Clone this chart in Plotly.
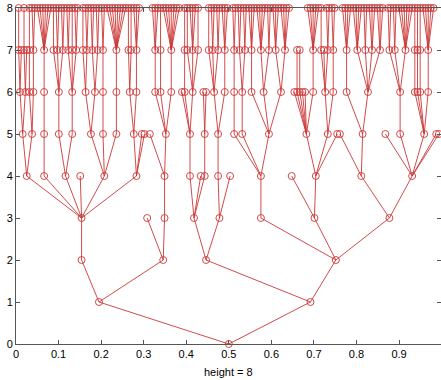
import plotly.graph_objects as go

# Tree structure: for each depth level, the index (within the previous level) of each node's parent
level1_parent = [0, 0]
level2_parent = [0, 0, 1, 1]
level3_parent = [0, 1, 1, 2, 2, 3, 3, 3]
level4_parent = [0, 0, 0, 0, 0, 0, 2, 3, 3, 3, 4, 4, 5, 6, 6, 7, 7]
level5_parent = [0, 0, 1, 2, 2, 4, 4, 4, 5, 5, 5, 6, 6, 7, 9, 10, 12, 12, 12,
                 14, 14, 14, 15, 15, 16, 16, 16, 16, 16]
level6_parent = [0, 0, 1, 1, 2, 3, 4, 5, 5, 6, 7, 8, 8, 12, 12, 12, 13, 13, 13,
                 14, 14, 15, 15, 16, 17, 18, 18, 18, 19, 19, 19, 19, 19, 19,
                 20, 20, 23, 23, 25, 26, 26, 26, 26]
level7_parent = [0, 0, 1, 1, 2, 3, 4, 5, 5, 5, 6, 6, 6, 7, 7, 8, 8, 9, 10, 11,
                 11, 12, 13, 14, 15, 17, 18, 18, 18, 21, 21, 21, 22, 23, 24, 24,
                 25, 26, 26, 27, 27, 29, 30, 33, 34, 34, 34, 35, 36, 37, 37, 37,
                 37, 38, 38, 38, 39, 40, 41, 42]
# number of depth-8 children of each depth-7 node
level8_count = [1, 0, 1, 0, 1, 2, 6, 1, 2, 2, 2, 1, 2, 1, 2, 2, 2, 2, 8, 1,
                1, 3, 3, 1, 7, 1, 1, 3, 1, 1, 2, 2, 3, 2, 2, 2, 3, 4, 2, 3,
                4, 0, 0, 5, 1, 0, 2, 2, 4, 4, 2, 3, 3, 2, 2, 6, 1, 1, 1, 5]
level8_parent = [i for i, c in enumerate(level8_count) for _ in range(c)]

x_ticks = [0, 0.1, 0.2, 0.3, 0.4, 0.5, 0.6, 0.7, 0.8, 0.9]
x_tick_labels = ["0", "0.1", "0.2", "0.3", "0.4", "0.5", "0.6", "0.7", "0.8", "0.9"]
y_ticks = [0, 1, 2, 3, 4, 5, 6, 7, 8]

levels = [level1_parent, level2_parent, level3_parent, level4_parent,
          level5_parent, level6_parent, level7_parent, level8_parent]

# ---- build the global parent vector (like MATLAB treeplot input) ----
parent = [-1]
depth = [0]
prev_off = 0
for d, plist in enumerate(levels, start=1):
    off = len(parent)
    for p in plist:
        parent.append(prev_off + p)
        depth.append(d)
    prev_off = off
N = len(parent)
children = [[] for _ in range(N)]
for i, p in enumerate(parent):
    if p >= 0:
        children[p].append(i)

# ---- tree layout: leaves evenly spaced in DFS order, parents centred on leaf span ----
lo = [0] * N
hi = [0] * N
counter = [0]


def dfs(u):
    if not children[u]:
        counter[0] += 1
        lo[u] = hi[u] = counter[0]
        return
    for c in children[u]:
        dfs(c)
    lo[u] = lo[children[u][0]]
    hi[u] = hi[children[u][-1]]


dfs(0)
n_leaves = counter[0]
xs = [(lo[i] + hi[i]) / 2 / (n_leaves + 1) for i in range(N)]
ys = depth

red = "rgb(205,55,55)"

ex, ey = [], []
for i in range(1, N):
    p = parent[i]
    ex += [xs[p], xs[i], None]
    ey += [ys[p], ys[i], None]

fig = go.Figure()
fig.add_trace(go.Scatter(x=ex, y=ey, mode="lines",
                         line=dict(color=red, width=0.9),
                         hoverinfo="skip", showlegend=False, cliponaxis=False))
fig.add_trace(go.Scatter(x=xs, y=ys, mode="markers",
                         marker=dict(symbol="circle-open", size=7,
                                     color=red, line=dict(color=red, width=0.9)),
                         showlegend=False, cliponaxis=False))
# invisible trace to carry the right-hand tick axis
fig.add_trace(go.Scatter(x=[0], y=[0], yaxis="y2", mode="markers",
                         marker=dict(opacity=0), showlegend=False, hoverinfo="skip"))

axis_font = dict(family="Liberation Sans, Arial, sans-serif", size=11, color="black")

fig.update_layout(
    width=441, height=380,
    margin=dict(l=16, r=0, t=8, b=36, autoexpand=False),
    paper_bgcolor="white", plot_bgcolor="white",
    font=axis_font,
    xaxis=dict(range=[0, 0.9986], tickvals=x_ticks, ticktext=x_tick_labels,
               showgrid=False, zeroline=False, showline=True, linecolor="#555",
               linewidth=1, mirror="ticks", ticks="inside", ticklen=4,
               tickcolor="#555", tickfont=axis_font, automargin=False),
    yaxis=dict(range=[0, 8], tickvals=y_ticks, showgrid=False, zeroline=False,
               showline=True, linecolor="#555", linewidth=1, ticks="inside",
               ticklen=4, tickcolor="#555", tickfont=axis_font, automargin=False),
    yaxis2=dict(range=[0, 8], tickvals=y_ticks, overlaying="y", side="right",
                showgrid=False, zeroline=False, showline=False, ticks="inside",
                ticklen=4, tickcolor="#555", showticklabels=False, automargin=False),
    annotations=[dict(text=f"height = {max(depth)}", x=0.5, y=-0.083,
                      xref="paper", yref="paper", xanchor="center",
                      yanchor="middle", showarrow=False, font=axis_font)],
)

fig.write_html("out.html", config={"displayModeBar": False},
               post_script="document.body.style.margin='0';document.body.style.overflow='hidden';")
